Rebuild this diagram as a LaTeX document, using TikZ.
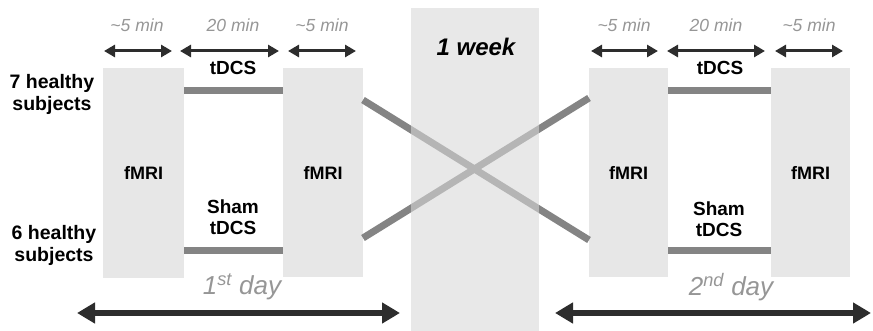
\documentclass[tikz,border=0pt]{standalone}
\usepackage{fontspec}
\setmainfont{Liberation Sans}
\usetikzlibrary{arrows.meta}
\definecolor{boxgray}{RGB}{231,231,231}
\definecolor{bargray}{RGB}{132,132,132}
\definecolor{labgray}{RGB}{150,150,150}
\definecolor{arrdark}{RGB}{45,45,45}
\definecolor{weekgray}{RGB}{216,216,216}
\begin{document}
\begin{tikzpicture}[x=1pt,y=-1pt,
  fmribox/.style={fill=boxgray,draw=none,inner sep=0pt,anchor=north west,minimum height=209pt,
    font=\fontsize{18}{21}\selectfont\bfseries},
  bar/.style={draw=bargray,line width=7pt},
  timelab/.style={text=labgray,font=\fontsize{17.5}{20}\selectfont\itshape,inner sep=0pt},
  boldlab/.style={font=\fontsize{19}{21}\selectfont\bfseries,align=center,inner sep=0pt},
  subjlab/.style={font=\fontsize{19.5}{22}\selectfont\bfseries,align=center,inner sep=0pt},
  daylab/.style={text=labgray,font=\fontsize{26}{30}\selectfont\itshape,inner sep=0pt},
  durarrow/.style={draw=arrdark,line width=3pt,{Triangle[length=11pt,width=12pt]}-{Triangle[length=11pt,width=12pt]}},
  bigarrow/.style={draw=arrdark,line width=6pt,{Triangle[length=18pt,width=20pt]}-{Triangle[length=18pt,width=20pt]}}
]
\useasboundingbox (0,0) rectangle (873,331);

% fMRI boxes
\node[fmribox,minimum width=81pt,minimum height=210pt] (b1) at (103,68) {fMRI};
\node[fmribox,minimum width=80pt] (b2) at (283,68) {fMRI};
\node[fmribox,minimum width=79pt] (b3) at (589,68) {fMRI};
\node[fmribox,minimum width=79pt] (b4) at (771,68) {fMRI};

% tDCS bars
\coordinate (t1a) at (184,91); \coordinate (t1b) at (283,91);
\coordinate (s1a) at (184,251); \coordinate (s1b) at (283,251);
\coordinate (t2a) at (668,91); \coordinate (t2b) at (771,91);
\coordinate (s2a) at (668,251); \coordinate (s2b) at (771,251);
\draw[bar] (t1a) -- (t1b);
\draw[bar] (s1a) -- (s1b);
\draw[bar] (t2a) -- (t2b);
\draw[bar] (s2a) -- (s2b);

% crossing lines
\coordinate (c1a) at (363,100); \coordinate (c1b) at (589,240);
\coordinate (c2a) at (363,238); \coordinate (c2b) at (589,98);
\draw[bar] (c1a) -- (c1b);
\draw[bar] (c2a) -- (c2b);

% one-week box
\node[fill=weekgray,fill opacity=0.59,draw=none,inner sep=0pt,anchor=north west,
  minimum width=128pt,minimum height=323pt] (wk) at (411,8) {};
\node[font=\fontsize{24}{28}\selectfont\bfseries\itshape,inner sep=0pt] (wklab) at (476,47) {1 week};

% duration arrows and labels
\coordinate (d1a) at (104,51); \coordinate (d1b) at (172,51);
\coordinate (d2a) at (180,51); \coordinate (d2b) at (279,51);
\coordinate (d3a) at (288,51); \coordinate (d3b) at (356,51);
\coordinate (d4a) at (591,51); \coordinate (d4b) at (658,51);
\coordinate (d5a) at (667,51); \coordinate (d5b) at (765,51);
\coordinate (d6a) at (775,51); \coordinate (d6b) at (843,51);
\foreach \i in {1,...,6} {\draw[durarrow] (d\i a) -- (d\i b);}
\node[timelab] (m1) at (137,25) {\textasciitilde5 min};
\node[timelab] (m2) at (233,25) {20 min};
\node[timelab] (m3) at (322,25) {\textasciitilde5 min};
\node[timelab] (m4) at (624,25) {\textasciitilde5 min};
\node[timelab] (m5) at (716,25) {20 min};
\node[timelab] (m6) at (809,25) {\textasciitilde5 min};

% stimulation labels
\node[boldlab] (tl1) at (233,68) {tDCS};
\node[boldlab] (tl2) at (720,68) {tDCS};
\node[boldlab] (sl1) at (233,217) {Sham\\tDCS};
\node[boldlab] (sl2) at (719,219) {Sham\\tDCS};

% subject labels
\node[subjlab] (g1) at (52,94) {7 healthy\\subjects};
\node[subjlab] (g2) at (54,245) {6 healthy\\subjects};

% day labels and arrows
\node[daylab] (day1) at (242,287) {1\textsuperscript{st} day};
\node[daylab] (day2) at (731,287) {2\textsuperscript{nd} day};
\coordinate (L1) at (77,313); \coordinate (L2) at (400,313);
\coordinate (R1) at (555,313); \coordinate (R2) at (871,313);
\draw[bigarrow] (L1) -- (L2);
\draw[bigarrow] (R1) -- (R2);
\end{tikzpicture}
\end{document}
